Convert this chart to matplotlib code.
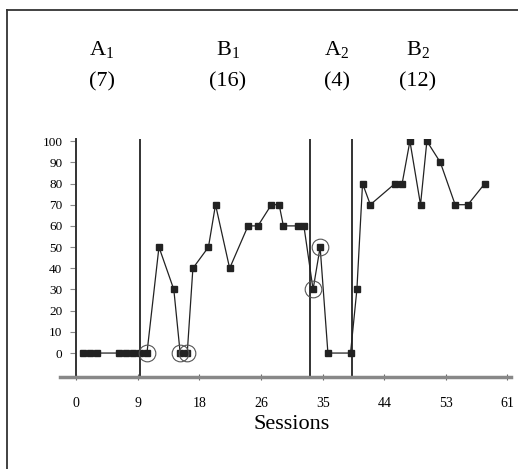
import matplotlib
matplotlib.use("Agg")
import matplotlib.pyplot as plt
import numpy as np
from matplotlib.lines import Line2D

plt.rcParams['font.family'] = ['Liberation Serif', 'DejaVu Serif']
plt.rcParams['mathtext.fontset'] = 'custom'
plt.rcParams['mathtext.rm'] = 'Liberation Serif'
plt.rcParams['mathtext.it'] = 'Liberation Serif:italic'

# Data (x positions, y = percent)
a1_x = [1, 2, 3, 6, 7, 8, 9]
a1_y = [0, 0, 0, 0, 0, 0, 0]
b1_x = [10.0, 11.7, 13.8, 14.7, 15.7, 16.5, 18.7, 19.7, 21.7, 24.3, 25.7, 27.6, 28.7, 29.3, 31.3, 32.2]
b1_y = [0, 50, 30, 0, 0, 40, 50, 70, 40, 60, 60, 70, 70, 60, 60, 60]
a2_x = [33.5, 34.5, 35.6, 38.8]
a2_y = [30, 50, 0, 0]
b2_x = [39.7, 40.5, 41.6, 45.1, 46.1, 47.2, 48.7, 49.6, 51.5, 53.6, 55.4, 57.8]
b2_y = [30, 80, 70, 80, 80, 100, 70, 100, 90, 70, 70, 80]
circled_x = [10.0, 14.7, 15.7, 33.5, 34.5]
circled_y = [0, 0, 0, 30, 50]
phase_lines = [9.05, 33.1, 39.0]
phase_names = [r"A$_{\mathrm{1}}$", r"B$_{\mathrm{1}}$", r"A$_{\mathrm{2}}$", r"B$_{\mathrm{2}}$"]
phase_counts = ["(7)", "(16)", "(4)", "(12)"]
x_ticklabels = ["0", "9", "18", "26", "35", "44", "53", "61"]
y_ticks = [0, 10, 20, 30, 40, 50, 60, 70, 80, 90, 100]

W, H = 518, 469
fig = plt.figure(figsize=(W / 100, H / 100), dpi=100)
ax = fig.add_axes([60 / W, (H - 377) / H, 451 / W, (377 - 139) / H])

xs = a1_x + b1_x + a2_x + b2_x
ys = a1_y + b1_y + a2_y + b2_y
ax.plot(xs, ys, color='#222222', lw=0.9, marker='s', ms=4.2, mfc='#222222', mec='#222222', zorder=3)
ax.plot(circled_x, circled_y, ls='none', marker='o', ms=12, mfc='none', mec='#555555', mew=0.8, zorder=4)

for px in phase_lines:
    ax.axvline(px, color='#333333', lw=1.4, zorder=2)

ax.set_xlim(-2.3, 61.5)
ax.set_ylim(-11.3, 101)

for s in ['top', 'right']:
    ax.spines[s].set_visible(False)
ax.spines['left'].set_position(('data', 0))
ax.spines['left'].set_color('#333333')
ax.spines['left'].set_linewidth(1.4)
ax.spines['bottom'].set_color('#888888')
ax.spines['bottom'].set_linewidth(2.5)

ax.set_xticks(np.linspace(0, 61, 8))
ax.set_xticklabels(x_ticklabels, fontsize=10)
ax.set_yticks(y_ticks)
ax.set_yticklabels([str(v) for v in y_ticks], fontsize=9.5)
ax.tick_params(axis='x', direction='inout', length=5, width=0.8, color='#666666', pad=12)
ax.tick_params(axis='y', direction='out', length=4, width=0.8, color='#888888', pad=6)

fig.text(292 / W, 1 - 424 / H, "Sessions", ha='center', va='center', fontsize=16)

hx = [102, 228, 337, 418]
for x, n, c in zip(hx, phase_names, phase_counts):
    fig.text(x / W, 1 - 50 / H, n, ha='center', va='center', fontsize=16)
    fig.text(x / W, 1 - 82 / H, c, ha='center', va='center', fontsize=16)

# outer frame (left and top edges visible)
fig.add_artist(Line2D([7 / W, 7 / W], [0, 1 - 10 / H], color='#333333', lw=1.3))
fig.add_artist(Line2D([7 / W, 1], [1 - 10 / H, 1 - 10 / H], color='#333333', lw=1.3))

fig.savefig("out.png", dpi=100)
